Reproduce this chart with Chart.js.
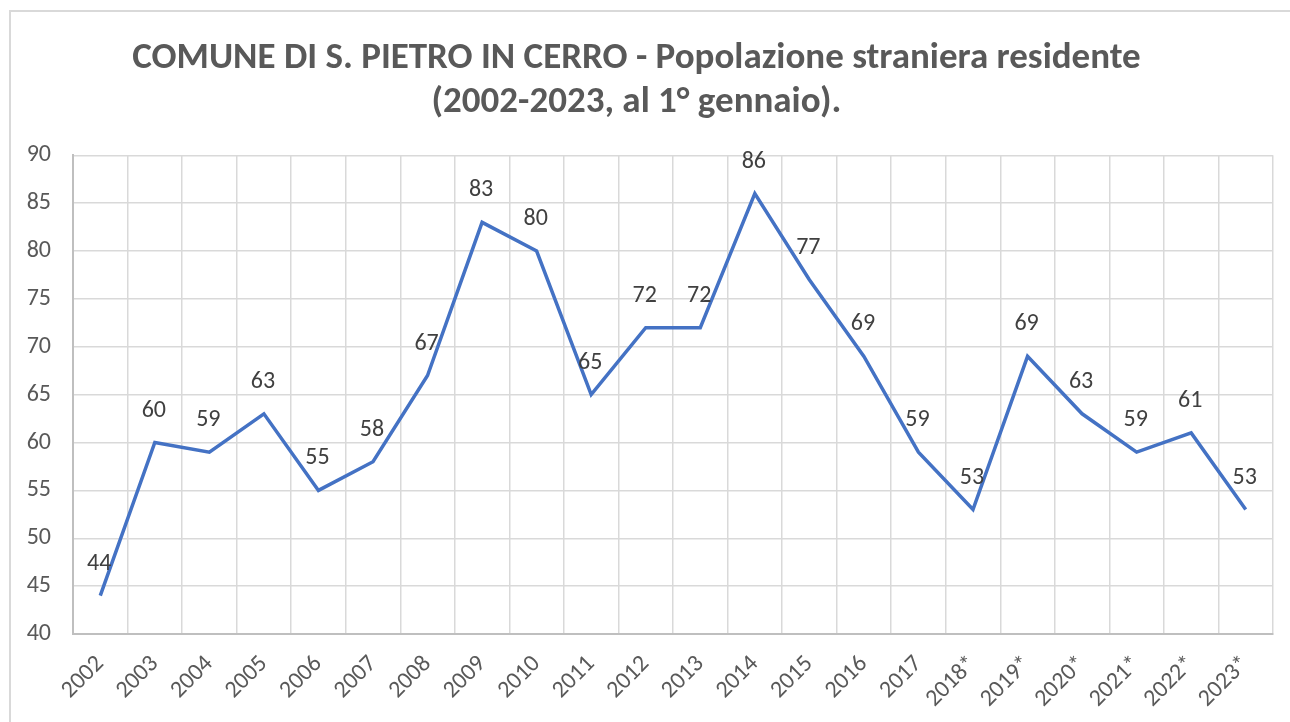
<!DOCTYPE html>
<html>
<head>
<meta charset="utf-8">
<script src="https://cdn.jsdelivr.net/npm/chart.js@4"></script>
<style>
  html, body { margin: 0; padding: 0; background: #ffffff; }
  #wrap { width: 1290px; height: 722px; }
</style>
</head>
<body>
<div id="wrap"><canvas id="popChart" width="1290" height="722"></canvas></div>
<script>
// Foreign resident population, 1st January of each year
const years = ['2002', '2003', '2004', '2005', '2006', '2007', '2008', '2009', '2010', '2011',
    '2012', '2013', '2014', '2015', '2016', '2017', '2018*', '2019*', '2020*', '2021*', '2022*', '2023*'];
const residents = [44, 60, 59, 63, 55, 58, 67, 83, 80, 65, 72, 72, 86, 77, 69, 59, 53, 69, 63, 59, 61, 53];
const titleLines = ['COMUNE DI S. PIETRO IN CERRO - Popolazione straniera residente', '(2002-2023, al 1° gennaio).'];
const yMin = 40, yMax = 90, yStep = 5;

const FONT = 'Carlito, Calibri, Lato, sans-serif';

// light frame around the whole chart
const framePlugin = {
    id: 'frame',
    beforeDraw(chart) {
        const c = chart.ctx;
        c.save();
        c.strokeStyle = '#d9d9d9';
        c.lineWidth = 2;
        c.beginPath();
        c.moveTo(10, chart.height);
        c.lineTo(10, 11);
        c.lineTo(chart.width, 11);
        c.stroke();
        c.restore();
    }
};

// value labels above each point
const valueLabels = {
    id: 'valueLabels',
    afterDatasetsDraw(chart) {
        const c = chart.ctx;
        const meta = chart.getDatasetMeta(0);
        c.save();
        c.font = '24px ' + FONT;
        c.fillStyle = '#404040';
        c.textAlign = 'center';
        c.textBaseline = 'middle';
        meta.data.forEach((pt, i) => {
            c.fillText(String(chart.data.datasets[0].data[i]), pt.x - 1, pt.y - 32);
        });
        c.restore();
    }
};

new Chart(document.getElementById('popChart'), {
    type: 'line',
    data: {
        labels: years,
        datasets: [{
            data: residents,
            borderColor: '#4472c4',
            borderWidth: 3.5,
            pointRadius: 0,
            tension: 0,
            fill: false
        }]
    },
    options: {
        responsive: false,
        animation: false,
        layout: { padding: { left: 0, right: 17, top: 0, bottom: 0 } },
        plugins: {
            legend: { display: false },
            tooltip: { enabled: false },
            title: {
                display: true,
                text: titleLines,
                color: '#595959',
                font: { family: FONT, size: 37, weight: 'bold', lineHeight: 1.18 },
                padding: { top: 37, bottom: 31 }
            }
        },
        scales: {
            x: {
                offset: true,
                grid: { offset: true, color: '#d9d9d9', lineWidth: 1.5, drawTicks: false },
                border: { color: '#bfbfbf', width: 2 },
                ticks: {
                    color: '#595959',
                    font: { family: FONT, size: 24 },
                    minRotation: 45,
                    maxRotation: 45,
                    padding: 16,
                    autoSkip: false
                },
                afterFit(scale) { scale.height = 88; }
            },
            y: {
                min: yMin,
                max: yMax,
                grid: { color: '#d9d9d9', lineWidth: 1.5, drawTicks: false },
                border: { color: '#bfbfbf', width: 2 },
                ticks: {
                    stepSize: yStep,
                    color: '#595959',
                    font: { family: FONT, size: 24 },
                    padding: 22
                },
                afterFit(scale) { scale.width = 73; }
            }
        }
    },
    plugins: [framePlugin, valueLabels]
});
</script>
</body>
</html>
